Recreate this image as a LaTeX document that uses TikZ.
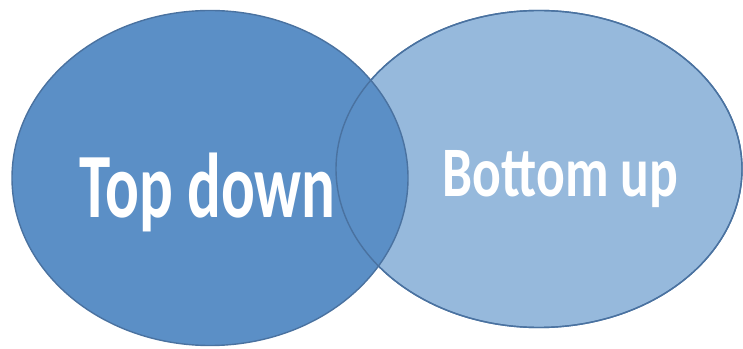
\documentclass[tikz,border=0pt]{standalone}
\usepackage{fontspec}
\setmainfont{Carlito}
\usetikzlibrary{shapes.geometric, positioning}

\definecolor{darkblob}{HTML}{5B8FC6}
\definecolor{lightblob}{HTML}{96B9DC}
\definecolor{blobline}{HTML}{4A72A0}

\begin{document}
\begin{tikzpicture}[x=1pt, y=1pt,
    blob/.style={ellipse, draw=blobline, line width=1.4pt, inner sep=0pt},
    blobtext/.style={text=white, font=\bfseries, anchor=base, inner sep=0pt}]
    \useasboundingbox (0,0) rectangle (743,348);
    % Fuellung zuerst, dann beide Raender
    \node[blob, fill=lightblob, minimum width=406pt, minimum height=317pt] (bottomup) at (539,179) {};
    \node[blob, fill=darkblob, minimum width=396pt, minimum height=335pt] (topdown) at (210,170) {};
    \node[blob, minimum width=406pt, minimum height=317pt] (bottomupline) at (bottomup.center) {};

    \node[blobtext] (toplabel) at (207.5,130)
        {\scalebox{0.685}[1]{\fontsize{92}{92}\selectfont Top down}};
    \node[blobtext] (bottomlabel) at (560.5,151)
        {\scalebox{0.755}[1]{\fontsize{71}{71}\selectfont Bottom up}};
\end{tikzpicture}
\end{document}
